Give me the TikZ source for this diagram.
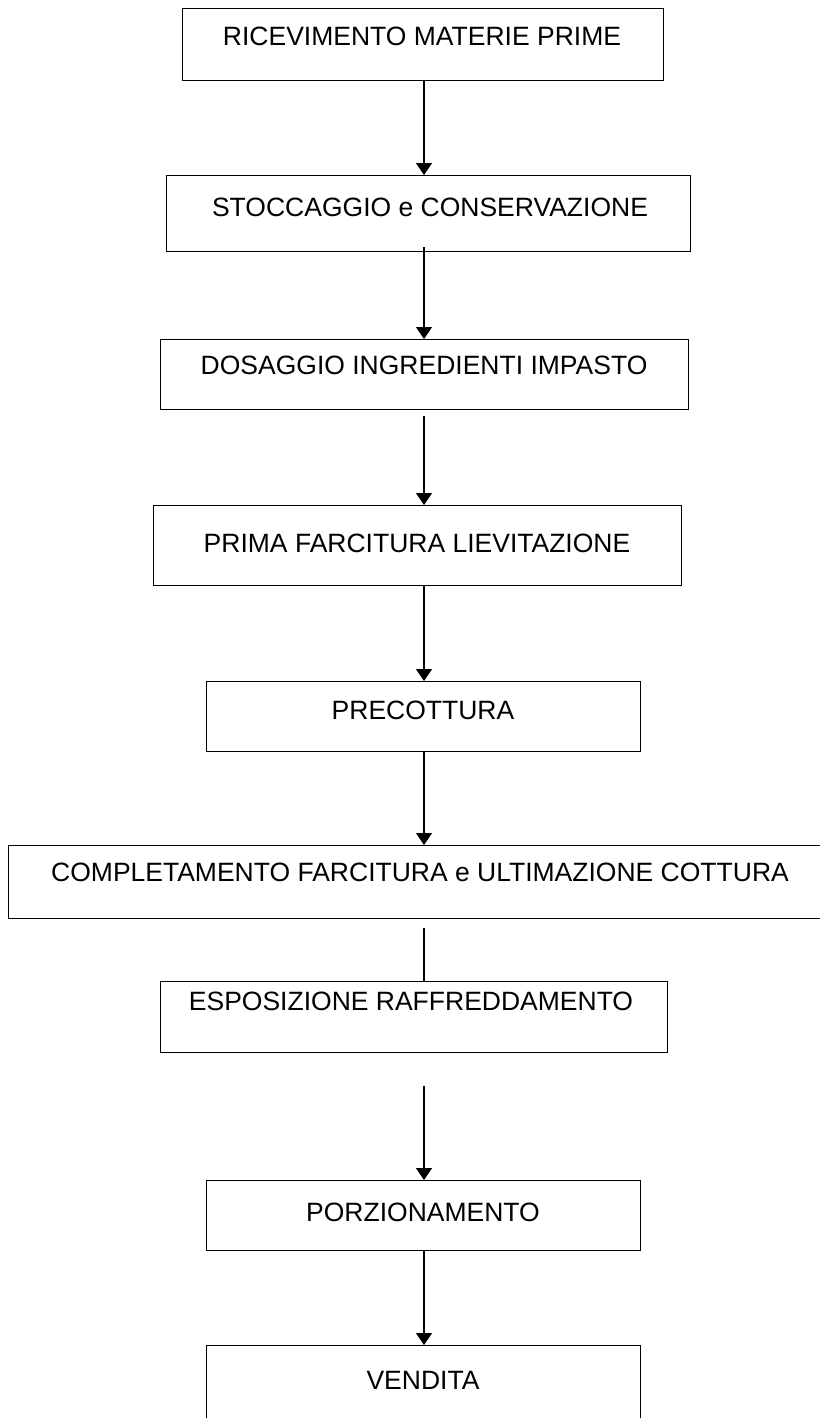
\documentclass[tikz,border=0pt]{standalone}
\usepackage{fontspec}
\setmainfont{Liberation Sans}
\usetikzlibrary{arrows.meta}
\begin{document}
\begin{tikzpicture}[x=1pt,y=-1pt,
  box/.style={draw=black, line width=1.4pt, fill=none, inner sep=0pt, anchor=north west},
  lbl/.style={font=\fontsize{26.5}{30}\selectfont, inner sep=0pt, anchor=center},
  conn/.style={draw=black, line width=1.4pt},
  arr/.style={conn, -{Triangle[length=12pt,width=16pt]}}]
\useasboundingbox (0,0) rectangle (819,1418);
\coordinate (ax) at (424,0);
% boxes
\node[box, minimum width=481pt, minimum height=72pt] (b1) at (182,8) {};
\node[box, minimum width=524pt, minimum height=76pt] (b2) at (166,175) {};
\node[box, minimum width=528pt, minimum height=70pt] (b3) at (160,339) {};
\node[box, minimum width=528pt, minimum height=80pt] (b4) at (153,505) {};
\node[box, minimum width=434pt, minimum height=70pt] (b5) at (206,681) {};
\node[box, minimum width=822pt, minimum height=73pt] (b6) at (8,845) {};
\node[box, minimum width=507pt, minimum height=71pt] (b7) at (160,981) {};
\node[box, minimum width=434pt, minimum height=70pt] (b8) at (206,1180) {};
\node[box, minimum width=434pt, minimum height=90pt] (b9) at (206,1345) {};
% labels
\node[lbl] (t1) at (422,36) {RICEVIMENTO MATERIE PRIME};
\node[lbl] (t2) at (430,207) {STOCCAGGIO e CONSERVAZIONE};
\node[lbl] (t3) at (424,365) {DOSAGGIO INGREDIENTI IMPASTO};
\node[lbl] (t4) at (417,543) {PRIMA FARCITURA LIEVITAZIONE};
\node[lbl] (t5) at (423,710) {PRECOTTURA};
\node[lbl] (t6) at (420,872) {COMPLETAMENTO FARCITURA e ULTIMAZIONE COTTURA};
\node[lbl] (t7) at (411,1001) {ESPOSIZIONE RAFFREDDAMENTO};
\node[lbl] (t8) at (423,1212) {PORZIONAMENTO};
\node[lbl] (t9) at (423,1380) {VENDITA};
% free ends
\coordinate (s2) at (424,247);
\coordinate (s3) at (424,416);
\coordinate (s6) at (424,928);
\coordinate (s7) at (424,1086);
% connectors
\draw[arr] (b1.south -| ax) -- (b2.north -| ax);
\draw[arr] (s2) -- (b3.north -| ax);
\draw[arr] (s3) -- (b4.north -| ax);
\draw[arr] (b4.south -| ax) -- (b5.north -| ax);
\draw[arr] (b5.south -| ax) -- (b6.north -| ax);
\draw[conn] (s6) -- (b7.north -| ax);
\draw[arr] (s7) -- (b8.north -| ax);
\draw[arr] (b8.south -| ax) -- (b9.north -| ax);
\end{tikzpicture}
\end{document}
